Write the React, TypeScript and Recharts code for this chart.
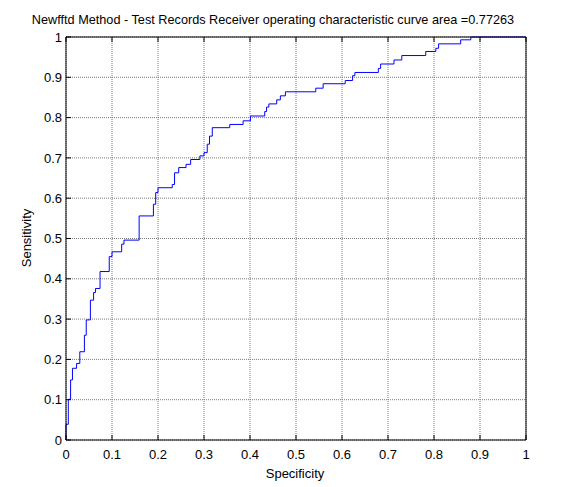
import { LineChart, Line, XAxis, YAxis, CartesianGrid } from 'recharts'

// ROC step points: false-positive axis (labelled Specificity) and true-positive rate
const specificity = [
  0, 0, 0.005, 0.01, 0.014, 0.023, 0.03, 0.04, 0.044, 0.053, 0.06, 0.064, 0.074, 0.094, 0.1,
  0.121, 0.126, 0.159, 0.19, 0.195, 0.2, 0.231, 0.236, 0.245, 0.261, 0.271, 0.291, 0.3, 0.307,
  0.312, 0.318, 0.356, 0.385, 0.401, 0.432, 0.436, 0.441, 0.458, 0.466, 0.477, 0.543, 0.559,
  0.607, 0.623, 0.628, 0.679, 0.684, 0.713, 0.73, 0.782, 0.804, 0.81, 0.858, 0.88, 1,
]
const sensitivity = [
  0, 0.039, 0.101, 0.149, 0.178, 0.19, 0.219, 0.26, 0.298, 0.347, 0.366, 0.376, 0.418, 0.455,
  0.467, 0.486, 0.496, 0.556, 0.585, 0.614, 0.626, 0.634, 0.663, 0.676, 0.684, 0.696, 0.705,
  0.713, 0.734, 0.754, 0.775, 0.783, 0.792, 0.804, 0.815, 0.826, 0.834, 0.844, 0.854, 0.864,
  0.873, 0.884, 0.892, 0.904, 0.912, 0.922, 0.933, 0.943, 0.954, 0.964, 0.972, 0.983, 0.993,
  1, 1,
]
const ticks = [0, 0.1, 0.2, 0.3, 0.4, 0.5, 0.6, 0.7, 0.8, 0.9, 1]

const title = 'Newfftd Method - Test Records Receiver operating characteristic curve area =0.77263'

const FONT = 'Arial, "Liberation Sans", sans-serif'
const tickStyle = { fill: '#000', fontSize: 13, fontFamily: FONT }
const axisLine = { stroke: '#000', strokeWidth: 1 }
const blank = () => ''

export default function App() {
  const data = specificity.map((x, i) => ({ x, y: sensitivity[i] }))

  return (
    <div style={{ position: 'absolute', left: 0, top: 0, width: 561, height: 487, background: '#fff' }}>
      <LineChart
        width={561}
        height={487}
        data={data}
        margin={{ top: 36, right: 34, bottom: 46, left: 65 }}
      >
        <CartesianGrid xAxisId="bottom" yAxisId="left" stroke="#7a7a7a" strokeDasharray="1 1" />
        <XAxis
          xAxisId="bottom"
          dataKey="x"
          type="number"
          domain={[0, 1]}
          ticks={ticks}
          interval={0}
          height={1}
          tickSize={-5}
          tickMargin={15}
          tick={tickStyle}
          tickLine={axisLine}
          axisLine={axisLine}
        />
        <XAxis
          xAxisId="top"
          orientation="top"
          dataKey="x"
          type="number"
          domain={[0, 1]}
          ticks={ticks}
          interval={0}
          height={1}
          tickSize={-5}
          tickFormatter={blank}
          tickLine={axisLine}
          axisLine={axisLine}
        />
        <YAxis
          yAxisId="left"
          type="number"
          domain={[0, 1]}
          ticks={ticks}
          interval={0}
          width={1}
          tickSize={-5}
          tickMargin={9}
          tick={tickStyle}
          tickLine={axisLine}
          axisLine={axisLine}
        />
        <YAxis
          yAxisId="right"
          orientation="right"
          type="number"
          domain={[0, 1]}
          ticks={ticks}
          interval={0}
          width={1}
          tickSize={-5}
          tickFormatter={blank}
          tickLine={axisLine}
          axisLine={axisLine}
        />
        <Line
          xAxisId="bottom"
          yAxisId="left"
          type="stepAfter"
          dataKey="y"
          stroke="#0000ff"
          strokeWidth={1}
          dot={false}
          activeDot={false}
          isAnimationActive={false}
        />
      </LineChart>
      <svg
        width={561}
        height={487}
        style={{ position: 'absolute', left: 0, top: 0, pointerEvents: 'none' }}
        fontFamily={FONT}
      >
        <text x={273} y={24} fontSize={12.7} textAnchor="middle" fill="#000">
          {title}
        </text>
        <text x={295} y={478} fontSize={13} textAnchor="middle" fill="#000">
          Specificity
        </text>
        <text x={31} y={238} fontSize={13} textAnchor="middle" fill="#000" transform="rotate(-90 31 238)">
          Sensitivity
        </text>
      </svg>
    </div>
  )
}
